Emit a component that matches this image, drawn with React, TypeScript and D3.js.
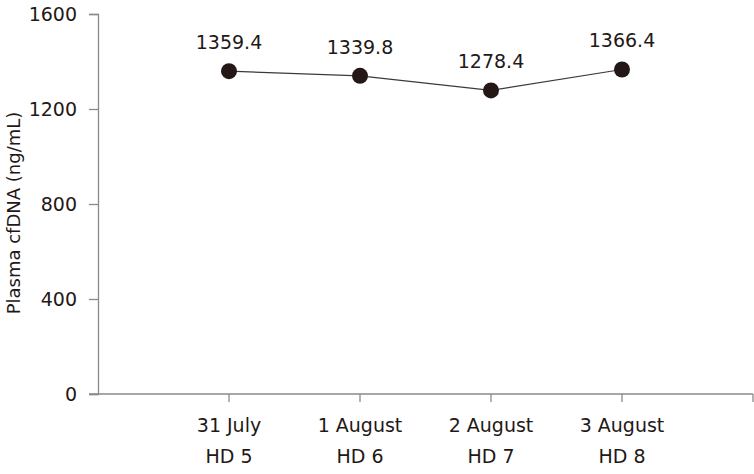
import React, { useRef, useEffect } from "react";
import * as d3 from "d3";

const dates = ["31 July", "1 August", "2 August", "3 August"];
const days = ["HD 5", "HD 6", "HD 7", "HD 8"];
const cfDNA = [1359.4, 1339.8, 1278.4, 1366.4];
const yTicks = [0, 400, 800, 1200, 1600];

const App = () => {
  const svgRef = useRef<SVGSVGElement | null>(null);

  useEffect(() => {
    const width = 754;
    const height = 474;
    const left = 98;
    const right = 753;
    const top = 14;
    const bottom = 394;
    const font = "'DejaVu Sans', Verdana, sans-serif";
    const fs = 19;
    const ink = "#231815";
    const axisColor = "#8a8a8a";

    const svg = d3.select(svgRef.current)
      .attr("width", width)
      .attr("height", height);
    svg.selectAll("*").remove();

    const x = d3.scalePoint<string>()
      .domain(dates)
      .range([left, right])
      .padding(1);

    const y = d3.scaleLinear()
      .domain([0, 1600])
      .range([bottom, top]);

    // y axis
    const yAxis = svg.append("g")
      .attr("transform", `translate(${left},0)`)
      .call(d3.axisLeft(y).tickValues(yTicks).tickSize(9).tickPadding(12).tickFormat(d3.format("d")));
    yAxis.select(".domain").attr("stroke", axisColor).attr("stroke-width", 1.3);
    yAxis.selectAll(".tick line").attr("stroke", axisColor).attr("stroke-width", 1.3);
    yAxis.selectAll("text")
      .attr("fill", ink)
      .attr("font-family", font)
      .attr("font-size", fs);

    // x axis
    const g = svg.append("g");
    g.append("line")
      .attr("x1", left - 9)
      .attr("x2", right)
      .attr("y1", bottom)
      .attr("y2", bottom)
      .attr("stroke", axisColor)
      .attr("stroke-width", 1.3);
    const tickXs = [...dates.map(d => x(d) as number), right];
    g.selectAll("line.xt")
      .data(tickXs)
      .enter()
      .append("line")
      .attr("class", "xt")
      .attr("x1", d => d)
      .attr("x2", d => d)
      .attr("y1", bottom)
      .attr("y2", bottom + 8)
      .attr("stroke", axisColor)
      .attr("stroke-width", 1.3);

    const labels = g.selectAll("text.xl")
      .data(dates)
      .enter()
      .append("text")
      .attr("class", "xl")
      .attr("text-anchor", "middle")
      .attr("font-family", font)
      .attr("font-size", fs)
      .attr("fill", ink);
    labels.append("tspan")
      .attr("x", d => x(d) as number)
      .attr("y", 432)
      .text(d => d);
    labels.append("tspan")
      .attr("x", d => x(d) as number)
      .attr("y", 463)
      .text((d, i) => days[i]);

    // y title
    svg.append("text")
      .attr("transform", `translate(20,${(top + bottom) / 2 + 9}) rotate(-90)`)
      .attr("text-anchor", "middle")
      .attr("font-family", font)
      .attr("font-size", 18)
      .attr("fill", ink)
      .text("Plasma cfDNA (ng/mL)");

    // line + points
    const line = d3.line<number>()
      .x((d, i) => x(dates[i]) as number)
      .y(d => y(d));

    svg.append("path")
      .datum(cfDNA)
      .attr("d", line)
      .attr("fill", "none")
      .attr("stroke", "#3a3a3a")
      .attr("stroke-width", 1.2);

    svg.selectAll("circle.pt")
      .data(cfDNA)
      .enter()
      .append("circle")
      .attr("class", "pt")
      .attr("cx", (d, i) => x(dates[i]) as number)
      .attr("cy", d => y(d))
      .attr("r", 8)
      .attr("fill", ink);

    svg.selectAll("text.val")
      .data(cfDNA)
      .enter()
      .append("text")
      .attr("class", "val")
      .attr("x", (d, i) => x(dates[i]) as number)
      .attr("y", d => y(d) - 22)
      .attr("text-anchor", "middle")
      .attr("font-family", font)
      .attr("font-size", fs)
      .attr("fill", ink)
      .text(d => d.toFixed(1));
  }, []);

  return <svg ref={svgRef} style={{ position: "absolute", left: 0, top: 0 }}></svg>;
};

export default App;
